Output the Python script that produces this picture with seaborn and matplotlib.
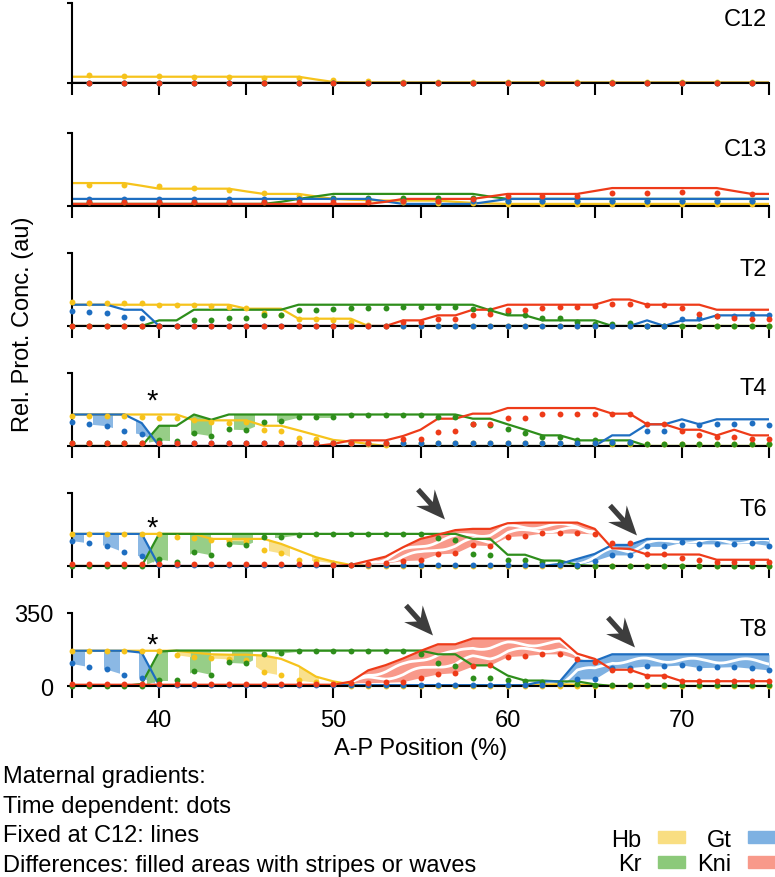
import numpy as np
import matplotlib
matplotlib.use("Agg")
import matplotlib.pyplot as plt
from matplotlib.path import Path
from matplotlib.patches import Patch
import seaborn as sns

# A-P positions (%): 1% bins, C12/C13 dots only every 2%
ap_pos = np.arange(35, 76)
ap_pos_c = np.arange(36, 75, 2)

# ---- C12 (lines: fixed at C12, dots: time dependent) ----
c12_hb_line = [30] * 14 + [17, 5] + [3] * 25
c12_kr_line = [0] * 41
c12_gt_line = [0] * 41
c12_kni_line = [0] * 41
c12_hb_dots = [39, 35, 32, 30, 27, 24, 23, 14, 11, 6, 6, 6, 6, 6, 6, 6, 6, 6, 6, 6]
c12_kr_dots = [0] * 20
c12_gt_dots = [0] * 20
c12_kni_dots = [0] * 20

# ---- C13 ----
c13_hb_line = [110] * 4 + [97] + [83] * 5 + [70] + [58] * 3 + [46, 34, 30, 28] + [26] * 4 + [20, 15, 12] + [10] * 16
c13_kr_line = [10] * 12 + [20, 34, 46] + [58] * 9 + [45] + [34] * 16
c13_gt_line = [34] * 18 + [22] + [10] * 5 + [22] + [34] * 16
c13_kni_line = [10] * 18 + [20] + [34] * 5 + [46] + [58] * 5 + [72] + [86] * 7 + [72, 58, 58]
c13_hb_dots = [102, 102, 94, 87, 78, 62, 50, 34, 26, 20, 15, 12, 10, 10, 10, 10, 10, 10, 10, 10]
c13_kr_dots = [18] * 6 + [34, 37, 39, 39, 39, 36] + [26] * 8
c13_gt_dots = [34] * 9 + [26] * 11
c13_kni_dots = [18] * 9 + [26, 26, 34, 47, 47, 47, 62, 62, 66, 63, 58]

# ---- T2 ----
t2_hb_line = [102] * 10 + [83] * 3 + [35] * 4 + [0] * 24
t2_kr_line = [0] * 5 + [27] * 2 + [78] * 6 + [102] * 11 + [75] + [51] * 2 + [27] * 4 + [0] * 10
t2_gt_line = [102] * 3 + [78] * 2 + [0] * 28 + [27, 0, 27, 27, 51, 51, 51, 51]
t2_kni_line = [0] * 19 + [27, 27, 51, 51, 78, 78] + [102] * 6 + [127, 127] + [102] * 4 + [78] * 4
t2_hb_dots = [114, 111, 111, 108, 108, 103, 102, 100, 97, 91, 87, 62, 54, 35, 32, 27, 19, 6] + [0] * 23
t2_kr_dots = ([0] * 7 + [30, 27, 40, 38, 54, 54, 75, 78, 83, 86, 87, 87, 91, 91, 91, 91]
              + [80, 75, 65, 55, 40, 40, 19, 11, 11, 16] + [0] * 8)
t2_gt_dots = [70, 67, 62, 43, 38] + [0] * 30 + [35, 38, 46, 46, 56, 51]
t2_kni_dots = [0] * 19 + [19, 19, 35, 35, 51, 59, 75, 75, 87, 91, 91, 94, 107, 107, 102, 102, 86, 59, 48, 40, 32, 32]

# ---- T4 ----
t4_hb_line = [151] * 7 + [123] * 4 + [97] * 2 + [75, 52, 29, 21, 10] + [0] * 23
t4_kr_line = [0] * 5 + [97, 97, 151, 126] + [151] * 14 + [131, 131, 104, 78, 51, 51, 27, 27, 27, 27] + [0] * 8
t4_gt_line = [151] * 4 + [110] + [0] * 26 + [51, 51, 104, 104, 128, 104, 128, 128, 128, 128]
t4_kni_line = [0] * 15 + [10, 27, 27, 27, 48, 78, 131, 131, 155, 155] + [182] * 6 + [155, 155, 104, 104, 78, 78, 51, 78, 51, 51]
t4_hb_dots = [143, 143, 143, 143, 138, 134, 134, 126, 115, 110, 113, 78, 70, 37, 32, 21, 15, 10, 5] + [12] * 12 + [10] * 10
t4_kr_dots = ([12] * 5 + [29, 24, 62, 49, 81, 78, 113, 118, 138, 138, 138] + [147] * 5 + [139, 139]
              + [104, 99, 83, 64, 43, 43, 27, 27, 16, 16] + [10] * 8)
t4_gt_dots = [113, 105, 97, 70, 57] + [12] * 26 + [19, 19, 70, 70, 99, 102, 107, 104, 112, 99]
t4_kni_dots = [12] * 19 + [32, 35, 67, 72, 104, 104, 134, 136, 152, 152, 155, 155, 155, 155, 104, 104, 72, 54, 43, 43, 35, 32]

# ---- T6 ----
t6_hb_line = [154] * 8 + [130] * 4 + [106, 74, 42, 21, 5] + [0] * 24
t6_kr_line = [0] * 5 + [154] * 18 + [130, 130, 54, 54, 26, 26, 5] + [0] * 11
t6_gt_line = [154] * 5 + [0] * 23 + [10, 34, 58, 101, 101] + [130] * 8
t6_kni_line = [0] * 16 + [5, 25, 45, 90, 130, 150, 172, 178, 178, 205, 208, 208, 208, 208, 178, 85, 82,
                          55, 55, 55, 55, 30, 30, 30, 30]
t6_hb_dots = [154] * 6 + [138, 133, 125, 122, 120, 78, 62, 30, 26, 14, 5] + [0] * 24
t6_kr_dots = [0] * 5 + [34, 21, 69, 53, 106, 101, 138, 138, 150, 152, 154] + [154] * 5 + [133, 126, 58, 53, 30, 29, 18, 15] + [0] * 12
t6_gt_dots = [122, 110, 98, 66, 46] + [5] * 23 + [5, 5, 26, 53, 53, 94, 94, 114, 106, 106, 106, 110, 98]
t6_kni_dots = [10] * 15 + [5, 5, 10, 14, 26, 29, 58, 62, 101, 98, 141, 146, 158, 158, 157, 154, 109, 109,
                           58, 58, 37, 30, 18, 18, 18, 18]

# ---- T8 ----
t8_hb_line = [169] * 7 + [160, 152, 150, 150, 146, 130, 96, 45, 22, 8] + [0] * 9 + [0, 6, 8, 6, 3] + [0] * 10
t8_kr_line = [0] * 4 + [10, 165] + [170] * 15 + [152, 152, 99, 99, 50, 26, 26, 22, 22, 8] + [0] * 10
t8_gt_line = [169] * 4 + [160] + [4] * 22 + [22, 22, 120, 120] + [152] * 10
t8_kni_line = [6] * 16 + [21, 75, 100, 132, 168, 200, 200] + [228] * 6 + [155, 130, 78, 78, 50, 50] + [23] * 6
t8_hb_dots = [169] * 6 + [150, 138, 134, 130, 124, 68, 52, 28, 18, 10] + [0] * 25
t8_kr_dots = [0] * 5 + [30, 30, 73, 55, 113, 109, 154, 158, 166, 166, 166] + [166] * 4 + [152, 108, 95, 40, 40, 30, 25, 20, 15, 10] + [5] * 11
t8_gt_dots = [108, 92, 80, 54, 40] + [5] * 22 + [5, 8, 34, 34, 85, 88, 96, 96, 101, 88, 90, 93, 85, 77]
t8_kni_dots = [10] * 16 + [16, 16, 18, 21, 40, 58, 64, 96, 101, 141, 146, 154, 154, 130, 117, 77, 77, 48, 48,
                           24, 24, 24, 24, 24, 24]

panels = ["C12", "C13", "T2", "T4", "T6", "T8"]
genes = ["hb", "kr", "gt", "kni"]
gene_labels = {"hb": "Hb", "kr": "Kr", "gt": "Gt", "kni": "Kni"}

series = {
    "C12": {"hb": (c12_hb_line, c12_hb_dots), "kr": (c12_kr_line, c12_kr_dots),
            "gt": (c12_gt_line, c12_gt_dots), "kni": (c12_kni_line, c12_kni_dots)},
    "C13": {"hb": (c13_hb_line, c13_hb_dots), "kr": (c13_kr_line, c13_kr_dots),
            "gt": (c13_gt_line, c13_gt_dots), "kni": (c13_kni_line, c13_kni_dots)},
    "T2": {"hb": (t2_hb_line, t2_hb_dots), "kr": (t2_kr_line, t2_kr_dots),
           "gt": (t2_gt_line, t2_gt_dots), "kni": (t2_kni_line, t2_kni_dots)},
    "T4": {"hb": (t4_hb_line, t4_hb_dots), "kr": (t4_kr_line, t4_kr_dots),
           "gt": (t4_gt_line, t4_gt_dots), "kni": (t4_kni_line, t4_kni_dots)},
    "T6": {"hb": (t6_hb_line, t6_hb_dots), "kr": (t6_kr_line, t6_kr_dots),
           "gt": (t6_gt_line, t6_gt_dots), "kni": (t6_kni_line, t6_kni_dots)},
    "T8": {"hb": (t8_hb_line, t8_hb_dots), "kr": (t8_kr_line, t8_kr_dots),
           "gt": (t8_gt_line, t8_gt_dots), "kni": (t8_kni_line, t8_kni_dots)},
}

# difference areas: (panel, gene, from, to, first stripe, period, stripe width)
stripe_fills = [
    ("T4", "gt", 35, 40, 36.2, 2.45, 1.15),
    ("T4", "kr", 39, 50, 39.4, 2.45, 1.2),
    ("T6", "gt", 35, 40, 34.8, 2.0, 0.9),
    ("T6", "kr", 39, 50, 39.3, 2.45, 1.2),
    ("T6", "hb", 43, 51, 46.3, 2.45, 1.2),
    ("T8", "gt", 35, 40, 34.85, 2.0, 0.9),
    ("T8", "kr", 39, 50, 39.3, 2.45, 1.2),
    ("T8", "hb", 41, 51, 43.1, 2.45, 1.2),
]
# (panel, gene, from, to, wave positions across the band)
wave_fills = [
    ("T6", "kni", 51, 66, (0.3, 0.68)),
    ("T6", "gt", 62, 75, (0.5,)),
    ("T8", "kni", 51, 65, (0.3, 0.68)),
    ("T8", "gt", 61, 75, (0.5,)),
]
solid_fills = [("T8", "hb", 61, 65)]

# annotations
star_panels = ["T4", "T6", "T8"]
star_y = [256, 225, 235]
arrow_panels = ["T6", "T6", "T8", "T8"]
arrow_x = [55.6, 66.6, 54.9, 66.5]
arrow_y = [297, 220, 316, 259]

notes = ["Maternal gradients:", "Time dependent: dots", "Fixed at C12: lines",
         "Differences: filled areas with stripes or waves"]

line_colors = {"hb": "#F6C31C", "kr": "#2E8E1B", "gt": "#1E6EC1", "kni": "#EE3B19"}
fill_colors = {"hb": "#F9DE82", "kr": "#8CC97A", "gt": "#7EB1E2", "kni": "#F8998A"}

# panel extents in pixels (top, bottom) of a 775 x 878 figure
panel_px = {"C12": (4, 84), "C13": (134, 207), "T2": (254, 327),
            "T4": (374, 447), "T6": (494, 567), "T8": (614, 687)}
W, H = 775, 878
X0, X1 = 72, 769

sns.set_style("ticks")
plt.rcParams["font.family"] = ["Liberation Sans", "DejaVu Sans"]
plt.rcParams["font.size"] = 17
for key in ("text.color", "axes.labelcolor", "xtick.color", "ytick.color"):
    plt.rcParams[key] = "black"

fig = plt.figure(figsize=(W / 100, H / 100), dpi=100)


def stripe_clip(first, period, width, x0, x1):
    start = first - period * np.ceil((first - x0) / period)
    verts, codes = [], []
    for s in np.arange(start, x1, period):
        verts += [(s, -1e4), (s + width, -1e4), (s + width, 1e4), (s, 1e4), (s, -1e4)]
        codes += [Path.MOVETO, Path.LINETO, Path.LINETO, Path.LINETO, Path.CLOSEPOLY]
    return Path(verts, codes)


# stealth arrow marker pointing down-right
ang = np.deg2rad(-48)
base = np.array([(1, 0), (-0.45, 0.62), (-0.05, 0.13), (-1, 0.13), (-1, -0.13), (-0.05, -0.13), (-0.45, -0.62), (1, 0)])
rot = np.array([[np.cos(ang), -np.sin(ang)], [np.sin(ang), np.cos(ang)]])
arrow_verts = base @ rot.T
arrow_marker = Path(arrow_verts, [Path.MOVETO] + [Path.LINETO] * 6 + [Path.CLOSEPOLY])
arrow_ms = 29 * np.abs(arrow_verts).max()

axes = {}
for name in panels:
    top, bot = panel_px[name]
    ax = fig.add_axes([X0 / W, 1 - bot / H, (X1 - X0) / W, (bot - top) / H])
    ax.set_facecolor("none")
    axes[name] = ax
    ytop = 383 if name == "C12" else 350
    dot_x = ap_pos_c if name in ("C12", "C13") else ap_pos

    for g in genes:
        line, dots = series[name][g]
        sns.lineplot(x=ap_pos, y=line, color=line_colors[g], linewidth=1.6, ax=ax, zorder=2)
    for g in genes:
        line, dots = series[name][g]
        sns.scatterplot(x=dot_x, y=dots, color=line_colors[g], s=18, linewidth=0, ax=ax,
                        zorder=3, clip_on=False)

    ax.set_xlim(35, 75)
    ax.set_ylim(0, ytop)
    ax.set_xticks(np.arange(35, 76, 5))
    ax.set_yticks([0, ytop])
    last = name == "T8"
    ax.set_xticklabels(["", "40", "", "50", "", "60", "", "70", ""] if last else [])
    ax.set_yticklabels(["0", "350"] if last else [])
    ax.tick_params(axis="x", length=8.6, width=1.5, pad=8, color="black")
    ax.tick_params(axis="y", length=3.6, width=1.5, pad=10, color="black")
    sns.despine(ax=ax)
    for s in ("left", "bottom"):
        ax.spines[s].set_linewidth(1.5)
        ax.spines[s].set_color("black")
    ax.set_xlabel("")
    ax.set_ylabel("")
    ax.annotate(name, xy=(1, 1), xycoords="axes fraction", xytext=(-2, -21.5),
                textcoords="offset pixels", ha="right", va="baseline", fontsize=17)

# striped difference areas
for name, g, x0, x1, first, period, width in stripe_fills:
    ax = axes[name]
    line, dots = series[name][g]
    mask = (ap_pos >= x0) & (ap_pos <= x1)
    poly = ax.fill_between(ap_pos, line, dots, where=mask, color=fill_colors[g], lw=0, zorder=1, alpha=0.9)
    poly.set_clip_path(stripe_clip(first, period, width, x0, x1), ax.transData)

# wavy difference areas
for name, g, x0, x1, fracs in wave_fills:
    ax = axes[name]
    line, dots = series[name][g]
    mask = (ap_pos >= x0) & (ap_pos <= x1)
    poly = ax.fill_between(ap_pos, line, dots, where=mask, color=fill_colors[g], lw=0, zorder=1)
    clip = poly.get_paths()[0]
    xs = np.linspace(x0, x1, 500)
    lo = np.interp(xs, ap_pos, dots)
    hi = np.interp(xs, ap_pos, line)
    for k, f in enumerate(fracs):
        yw = lo + f * (hi - lo) + 11 * np.sin(2 * np.pi * (xs - x0) / 3.0 + k * 1.5)
        wl, = ax.plot(xs, yw, color="white", lw=2.0, zorder=1.5)
        wl.set_clip_path(clip, ax.transData)

for name, g, x0, x1 in solid_fills:
    ax = axes[name]
    line, dots = series[name][g]
    mask = (ap_pos >= x0) & (ap_pos <= x1)
    ax.fill_between(ap_pos, line, dots, where=mask, color=fill_colors[g], lw=0, zorder=1)

for name, y in zip(star_panels, star_y):
    axes[name].annotate("*", xy=(39.6, y), xytext=(0, -16), textcoords="offset pixels",
                        ha="center", va="baseline", fontsize=21)

for name, x, y in zip(arrow_panels, arrow_x, arrow_y):
    axes[name].plot([x], [y], marker=arrow_marker, ms=arrow_ms, color="#3d3d3d", mew=0,
                    ls="none", clip_on=False, zorder=4)

axes["T8"].set_xlabel("A-P Position (%)", labelpad=4)
fig.text(23 / W, 1 - 324 / H, "Rel. Prot. Conc. (au)", rotation=90, ha="center", va="center", fontsize=17)

for i, txt in enumerate(notes):
    fig.text(3 / W, 1 - (783.5 + 29.5 * i) / H, txt, ha="left", va="baseline", fontsize=17)

handles = [Patch(color=fill_colors[g]) for g in genes]
fig.legend(handles, [gene_labels[g] for g in genes], ncol=2, loc="lower right",
           bbox_to_anchor=(1.0, 0.002), frameon=False, markerfirst=False, fontsize=17,
           handlelength=1.15, handleheight=0.4, handletextpad=0.7, columnspacing=0.5,
           labelspacing=0.1, borderpad=0.0, borderaxespad=0)

fig.savefig("out.png", dpi=100)
